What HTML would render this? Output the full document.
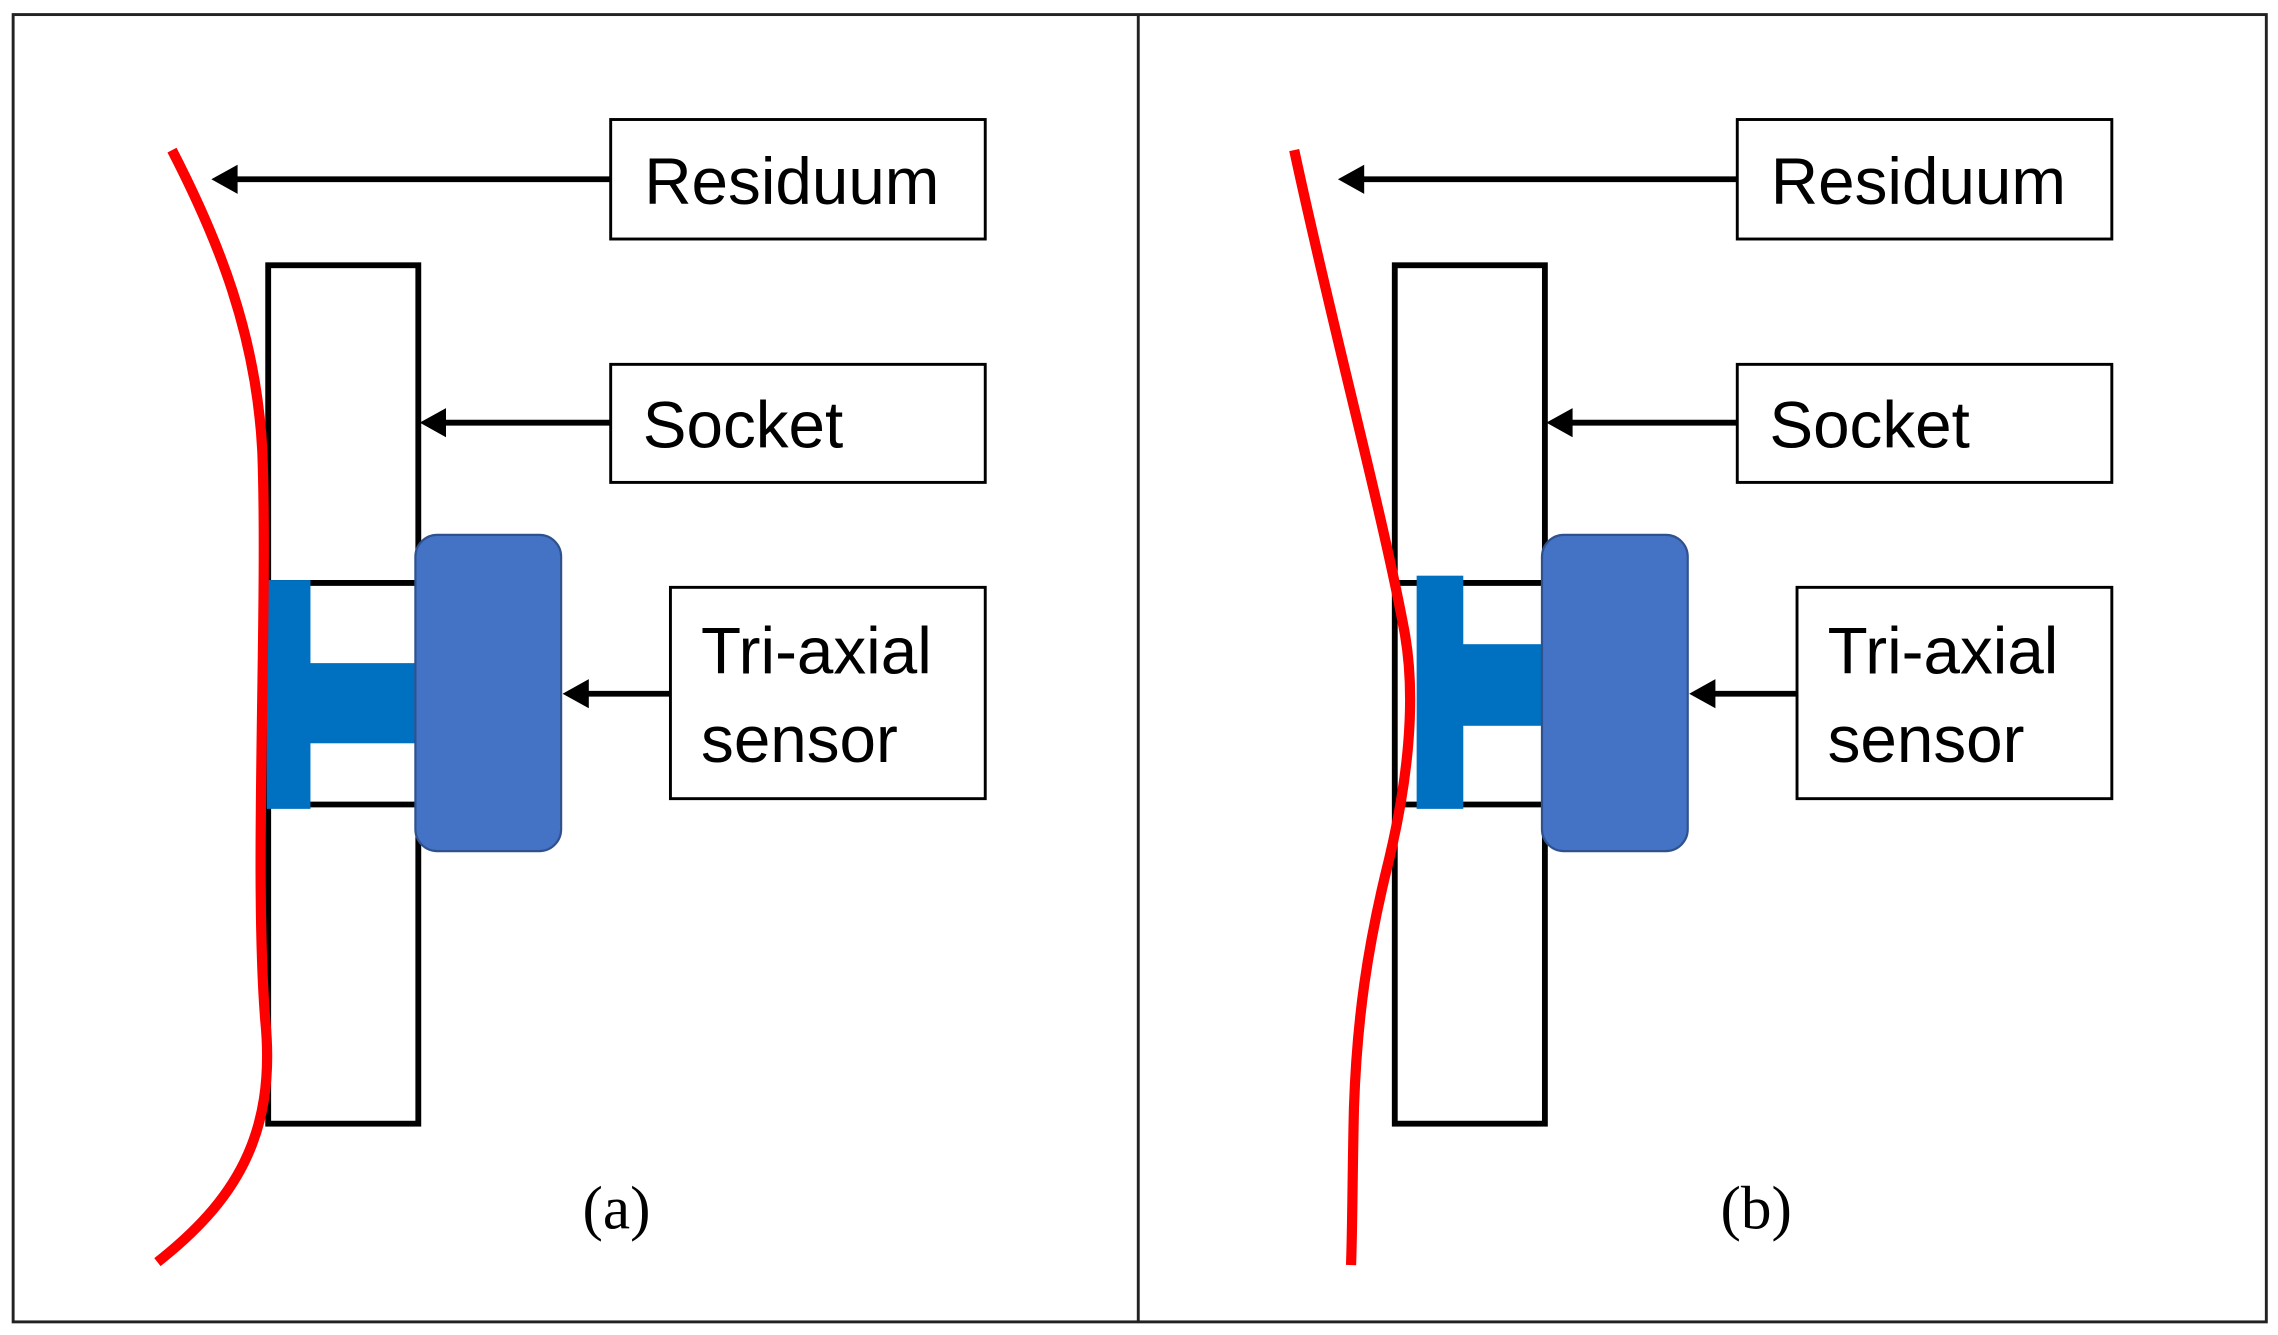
<!DOCTYPE html>
<html><head><meta charset="utf-8"><style>
html,body{margin:0;padding:0;background:#fff;}
svg{display:block;}
</style></head><body>
<svg width="2278" height="1335" viewBox="0 0 1563 916" xmlns="http://www.w3.org/2000/svg">
<rect x="0" y="0" width="1563" height="916" fill="#fff"/>
<rect x="9" y="10" width="1546" height="897" fill="none" stroke="#222" stroke-width="2"/>
<line x1="781" y1="10" x2="781" y2="907" stroke="#222" stroke-width="2"/>

<g font-family="'Liberation Sans',sans-serif">
<rect x="184" y="182" width="103" height="589" fill="none" stroke="#000" stroke-width="4"/>
<line x1="184" y1="400" x2="287" y2="400" stroke="#000" stroke-width="4"/>
<line x1="184" y1="552" x2="287" y2="552" stroke="#000" stroke-width="4"/>
<rect x="183" y="398" width="30" height="157" fill="#0070C0"/>
<rect x="212" y="455" width="78" height="55" fill="#0070C0"/>
<rect x="285" y="367" width="100" height="217" rx="15" fill="#4472C4" stroke="#2F528F" stroke-width="1.5"/>
<path d="M118,103 C150,165 176,230 180,310 C184,420 174,600 182,700 C190,780 160,825 108,866" fill="none" stroke="#f00" stroke-width="7"/>
<rect x="419" y="82" width="257" height="82" fill="#fff" stroke="#000" stroke-width="2"/>
<rect x="419" y="250" width="257" height="81" fill="#fff" stroke="#000" stroke-width="2"/>
<rect x="460" y="403" width="216" height="145" fill="#fff" stroke="#000" stroke-width="2"/>
<line x1="419" y1="123" x2="160" y2="123" stroke="#000" stroke-width="4"/>
<path d="M145,123 L163,113 L163,133 Z"/>
<line x1="419" y1="290" x2="303" y2="290" stroke="#000" stroke-width="4"/>
<path d="M288,290 L306,280 L306,300 Z"/>
<line x1="460" y1="476" x2="401" y2="476" stroke="#000" stroke-width="4"/>
<path d="M386,476 L404,466 L404,486 Z"/>
<text x="442" y="140" font-size="45">Residuum</text>
<text x="441" y="307" font-size="45">Socket</text>
<text x="481" y="462" font-size="45">Tri-axial</text>
<text x="481" y="523" font-size="45">sensor</text>
<text x="423" y="843" font-size="42" font-family="'Liberation Serif',serif" text-anchor="middle">(a)</text>
</g>

<g font-family="'Liberation Sans',sans-serif" transform="translate(773,0)">
<rect x="184" y="182" width="103" height="589" fill="none" stroke="#000" stroke-width="4"/>
<line x1="184" y1="400" x2="287" y2="400" stroke="#000" stroke-width="4"/>
<line x1="184" y1="552" x2="287" y2="552" stroke="#000" stroke-width="4"/>
<rect x="199" y="395" width="32" height="160" fill="#0070C0"/>
<rect x="230" y="442" width="60" height="56" fill="#0070C0"/>
<rect x="285" y="367" width="100" height="217" rx="15" fill="#4472C4" stroke="#2F528F" stroke-width="1.5"/>
<path d="M115,103 C140,220 175,350 190,430 C200,480 192,540 180,590 C165,650 158,700 156,760 C155,800 155,840 154,868" fill="none" stroke="#f00" stroke-width="7"/>
<rect x="419" y="82" width="257" height="82" fill="#fff" stroke="#000" stroke-width="2"/>
<rect x="419" y="250" width="257" height="81" fill="#fff" stroke="#000" stroke-width="2"/>
<rect x="460" y="403" width="216" height="145" fill="#fff" stroke="#000" stroke-width="2"/>
<line x1="419" y1="123" x2="160" y2="123" stroke="#000" stroke-width="4"/>
<path d="M145,123 L163,113 L163,133 Z"/>
<line x1="419" y1="290" x2="303" y2="290" stroke="#000" stroke-width="4"/>
<path d="M288,290 L306,280 L306,300 Z"/>
<line x1="460" y1="476" x2="401" y2="476" stroke="#000" stroke-width="4"/>
<path d="M386,476 L404,466 L404,486 Z"/>
<text x="442" y="140" font-size="45">Residuum</text>
<text x="441" y="307" font-size="45">Socket</text>
<text x="481" y="462" font-size="45">Tri-axial</text>
<text x="481" y="523" font-size="45">sensor</text>
<text x="432" y="843" font-size="42" font-family="'Liberation Serif',serif" text-anchor="middle">(b)</text>
</g>
</svg>
</body></html>
